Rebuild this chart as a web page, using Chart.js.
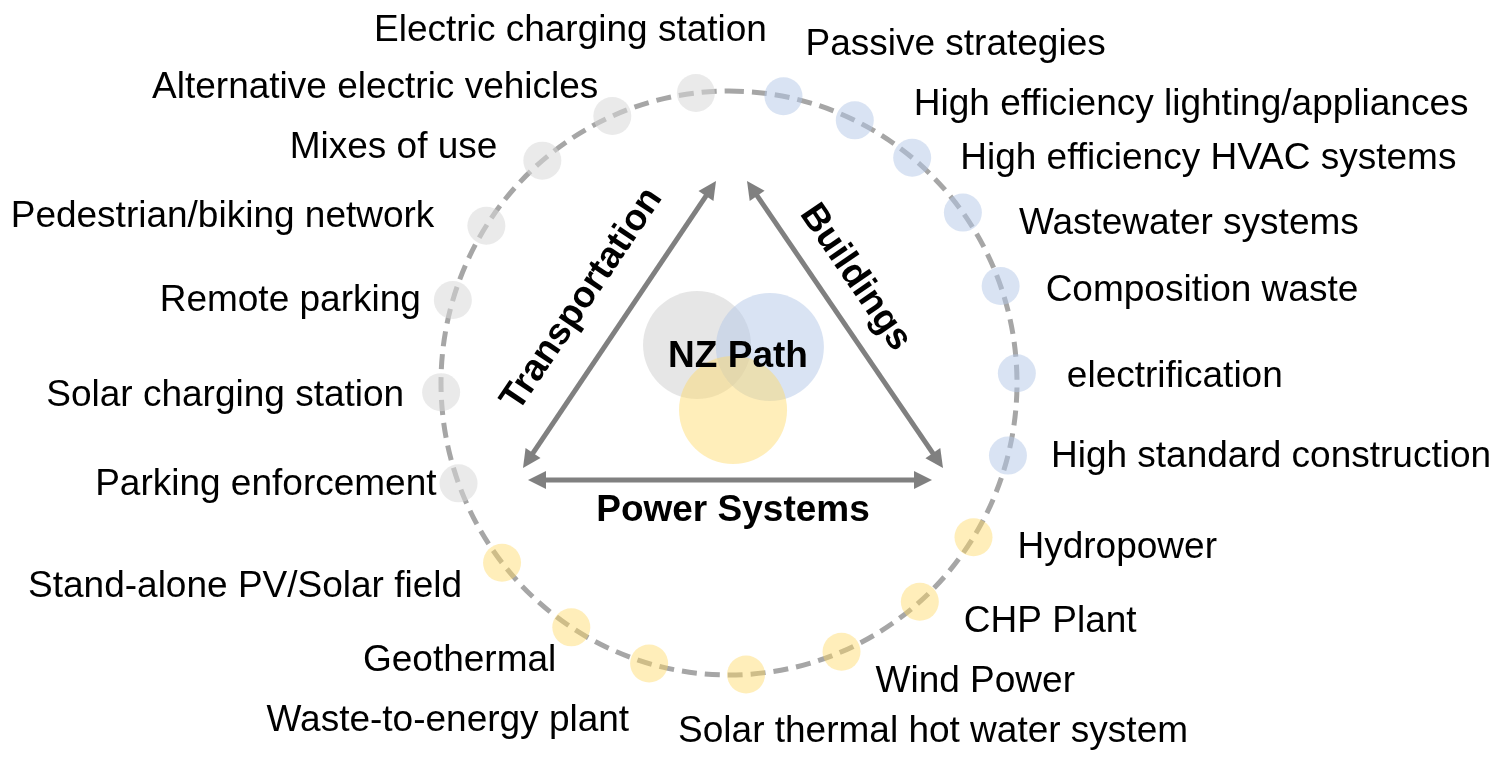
<!DOCTYPE html>
<html><head><meta charset="utf-8">
<script src="https://cdn.jsdelivr.net/npm/chart.js@4.4.1/dist/chart.umd.min.js"></script>
<style>html,body{margin:0;padding:0;background:#fff;overflow:hidden}canvas{display:block}</style>
</head><body>
<canvas id="c" width="1509" height="758"></canvas>
<script>
// ---------- DATA ----------
const transportLabels = ["Electric charging station","Alternative electric vehicles","Mixes of use","Pedestrian/biking network","Remote parking","Solar charging station","Parking enforcement"];
const transportAngles = [-6.6,-23.9,-40.4,-57.4,-73.5,-91.8,-110.1];   // degrees, clockwise from top
const buildingLabels = ["Passive strategies","High efficiency lighting/appliances","High efficiency HVAC systems","Wastewater systems","Composition waste","electrification","High standard construction"];
const buildingAngles = [10.9,25.9,39.5,54.3,70.6,88.1,104.4];
const powerLabels = ["Hydropower","CHP Plant","Wind Power","Solar thermal hot water system","Waste-to-energy plant","Geothermal","Stand-alone PV/Solar field"];
const powerAngles = [121.9,138.5,157.0,176.6,196.1,213.2,232.0];
const sectorNames = ["Transportation","Buildings","Power Systems"];
const centerTitle = "NZ Path";

// ---------- LAYOUT / STYLE ----------
const W = 1509, H = 758;
const CX = 729, CY = 383, RX = 288, RY = 292;   // ring centre / radii in px
const FONT = '"Liberation Sans", Arial, sans-serif';
// label offsets from dot centre: [dx, dyBaseline, align]
const transportOff = [[71,-52,'right'],[-14,-18,'right'],[-45,-3,'right'],[-52,1,'right'],[-32,11,'right'],[-37,14,'right'],[-22,12,'right']];
const buildingOff  = [[22,-41,'left'],[59,-5,'left'],[48,11,'left'],[56,21,'left'],[45,15,'left'],[50,14,'left'],[43,11,'left']];
const powerOff     = [[44,21,'left'],[44,30,'left'],[34,40,'left'],[-68,68,'left'],[-20,67,'right'],[-15,44,'right'],[-40,34,'right']];
// venn circles (ring units)
const vennPos = [{x:-0.111,y:0.130},{x:0.142,y:0.123},{x:0.014,y:-0.0925}];
// arrows in px
const arrows = [[523,468,716,181],[747,181,943,468],[528,480,932,480]];

const toXY = a => ({x: Math.sin(a*Math.PI/180), y: Math.cos(a*Math.PI/180)});

const ringPlugin = {
  id:'ring',
  beforeDatasetsDraw(chart){
    const {ctx, scales:{x,y}} = chart;
    const cx = x.getPixelForValue(0), cy = y.getPixelForValue(0);
    const rx = x.getPixelForValue(1)-cx, ry = cy - y.getPixelForValue(1);
    ctx.save();
    ctx.strokeStyle = '#a6a6a6';
    ctx.lineWidth = 5;
    ctx.setLineDash([15,8]);
    ctx.beginPath();
    ctx.ellipse(cx, cy, rx, ry, 0, -Math.PI/2, 1.5*Math.PI);
    ctx.stroke();
    ctx.restore();
  }
};

function drawArrow(ctx, x1,y1,x2,y2){
  const ang = Math.atan2(y2-y1, x2-x1);
  const L = 18, Wd = 9;
  const c = Math.cos(ang), s = Math.sin(ang);
  ctx.beginPath();
  ctx.moveTo(x1 + c*(L-2), y1 + s*(L-2));
  ctx.lineTo(x2 - c*(L-2), y2 - s*(L-2));
  ctx.stroke();
  const head = (tx,ty,dir) => {
    const bx = tx - dir*c*L, by = ty - dir*s*L;
    ctx.beginPath();
    ctx.moveTo(tx,ty);
    ctx.lineTo(bx - s*Wd, by + c*Wd);
    ctx.lineTo(bx + s*Wd, by - c*Wd);
    ctx.closePath();
    ctx.fill();
  };
  head(x2,y2,1);
  head(x1,y1,-1);
}

const annotPlugin = {
  id:'annot',
  afterDatasetsDraw(chart){
    const ctx = chart.ctx;
    ctx.save();
    // arrows
    ctx.strokeStyle = '#808080'; ctx.fillStyle = '#808080'; ctx.lineWidth = 5;
    arrows.forEach(a => drawArrow(ctx, ...a));
    // item labels
    ctx.fillStyle = '#000';
    ctx.font = '37px ' + FONT;
    ctx.textBaseline = 'alphabetic';
    const groups = [[0,transportLabels,transportOff],[1,buildingLabels,buildingOff],[2,powerLabels,powerOff]];
    groups.forEach(([di, labels, off]) => {
      const meta = chart.getDatasetMeta(di);
      meta.data.forEach((pt,i) => {
        ctx.textAlign = off[i][2];
        ctx.fillText(labels[i], pt.x + off[i][0], pt.y + off[i][1]);
      });
    });
    // sector labels
    ctx.font = 'bold 37px ' + FONT;
    ctx.textAlign = 'center';
    ctx.textBaseline = 'middle';
    const rot = [[arrows[0], 45, 0],[arrows[1], 35, -33]];
    rot.forEach(([a, perp, along], k) => {
      const [x1,y1,x2,y2] = a;
      const th = Math.atan2(y2-y1, x2-x1);
      const mx = (x1+x2)/2, my = (y1+y2)/2;
      const ux = Math.sin(th), uy = -Math.cos(th);
      const px = mx + ux*perp + Math.cos(th)*along, py = my + uy*perp + Math.sin(th)*along;
      ctx.save();
      ctx.translate(px, py);
      ctx.rotate(th);
      ctx.fillText(sectorNames[k], 0, 0);
      ctx.restore();
    });
    ctx.textBaseline = 'alphabetic';
    ctx.fillText(sectorNames[2], 733, 521);
    ctx.fillText(centerTitle, 738, 367);
    ctx.restore();
  }
};

new Chart(document.getElementById('c'), {
  type:'scatter',
  data:{
    datasets:[
      {label:'Transportation', data: transportAngles.map(toXY), pointRadius:19, pointHoverRadius:19, borderWidth:0, backgroundColor:'rgba(217,217,217,0.55)', order:3},
      {label:'Buildings', data: buildingAngles.map(toXY), pointRadius:19, pointHoverRadius:19, borderWidth:0, backgroundColor:'rgba(180,199,231,0.5)', order:2},
      {label:'Power Systems', data: powerAngles.map(toXY), pointRadius:19, pointHoverRadius:19, borderWidth:0, backgroundColor:'rgba(255,217,102,0.45)', order:1},
      {label:'venn', data: vennPos, pointRadius:54, pointHoverRadius:54, borderWidth:0,
        backgroundColor:['rgba(200,200,200,0.45)','rgba(180,199,231,0.5)','rgba(255,217,102,0.45)'], order:0}
    ]
  },
  options:{
    responsive:false, animation:false, events:[],
    layout:{padding:0, autoPadding:false},
    plugins:{legend:{display:false}, tooltip:{enabled:false}},
    scales:{
      x:{type:'linear', display:false, min:-CX/RX, max:(W-CX)/RX},
      y:{type:'linear', display:false, min:-(H-CY)/RY, max:CY/RY}
    }
  },
  plugins:[ringPlugin, annotPlugin]
});
</script>
</body></html>
